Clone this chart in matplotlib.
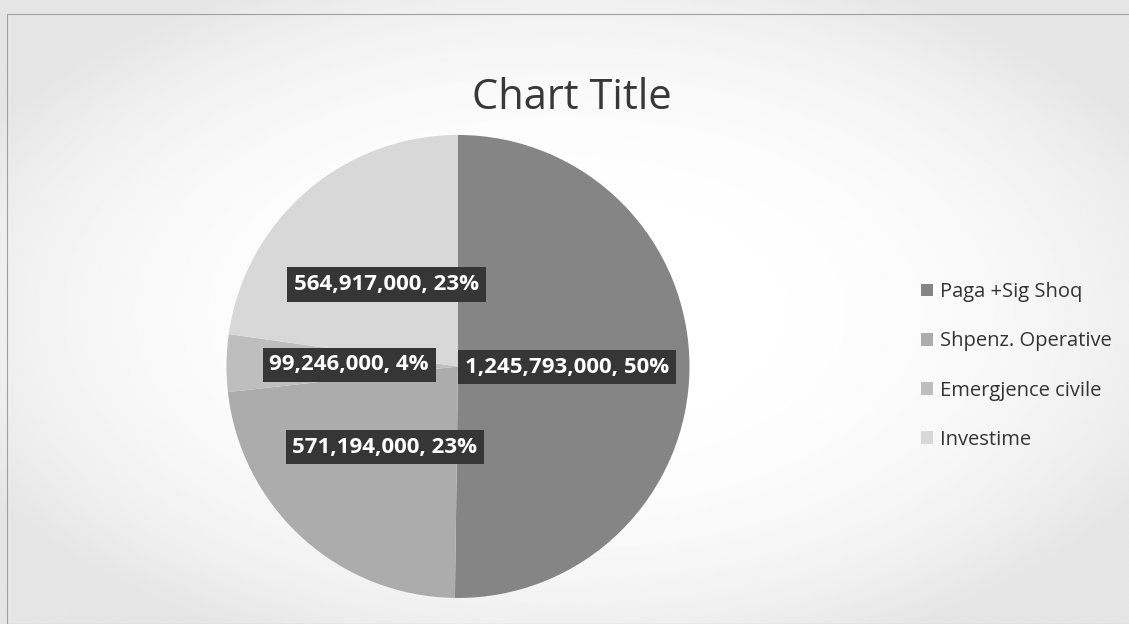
import matplotlib
matplotlib.use('Agg')
import matplotlib.pyplot as plt
import numpy as np
from matplotlib.patches import Rectangle

categories = ['Paga +Sig Shoq', 'Shpenz. Operative', 'Emergjence civile', 'Investime']
values = [1245793000, 571194000, 99246000, 564917000]
colors = ['#858585', '#acacac', '#bebebe', '#d8d8d8']
title = 'Chart Title'

plt.rcParams['font.family'] = ['Open Sans', 'DejaVu Sans']

fig = plt.figure(figsize=(11.29, 6.24), dpi=100)

# scanned-looking background: white centre, slightly grey corners
bg = fig.add_axes([0, 0, 1, 1], zorder=-10)
yy, xx = np.mgrid[-1:1:300j, -1:1:540j]
shade = np.clip(np.sqrt((xx * 0.85) ** 2 + (yy * 0.85) ** 2), 0, 1)
bg.imshow(1.0 - 0.10 * shade ** 3, cmap='gray', vmin=0, vmax=1,
          extent=[0, 1, 0, 1], aspect='auto')
bg.add_patch(Rectangle((7 / 1129, 0), 1, 1 - 14 / 624, fill=False,
                       edgecolor='#a0a0a0', linewidth=0.8))
bg.set_xlim(0, 1)
bg.set_ylim(0, 1)
bg.axis('off')

ax = fig.add_axes([0.2006, 0.0417, 0.4101, 0.742])
total = sum(values)


def fmt(v):
    return f'{v:,}, {v / total * 100:.0f}%'


wedges = ax.pie(values, colors=colors, startangle=90, counterclock=False,
                radius=1, wedgeprops=dict(linewidth=0))[0]
for w, v in zip(wedges, values):
    ang = np.deg2rad((w.theta1 + w.theta2) / 2)
    r = 0.47
    ax.text(r * np.cos(ang), r * np.sin(ang), fmt(v),
            ha='center', va='center', color='white', fontsize=16,
            fontweight='bold',
            bbox=dict(boxstyle='square,pad=0.3', facecolor='#363636',
                      edgecolor='none'))
ax.set_xlim(-1, 1)
ax.set_ylim(-1, 1)
ax.set_aspect('equal')
ax.axis('off')

fig.text(572 / 1129, 1 - 98 / 624, title, ha='center', va='center',
         fontsize=30, color='#383838')

fig.legend(wedges, categories, loc='center left',
           bbox_to_anchor=(903 / 1129, 1 - 366 / 624), frameon=False,
           fontsize=14.5, handlelength=0.6, handleheight=0.6,
           handletextpad=0.35, labelspacing=1.45, labelcolor='#333333')

fig.savefig('out.png', dpi=100)
